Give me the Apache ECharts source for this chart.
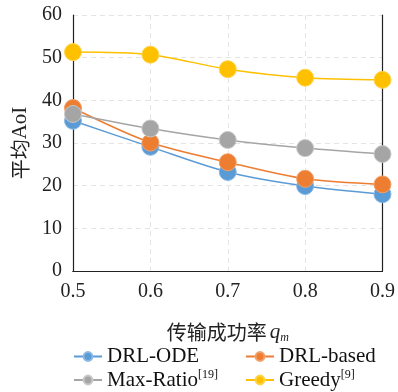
<!DOCTYPE html>
<html>
<head>
<meta charset="utf-8">
<script src="https://cdn.jsdelivr.net/npm/echarts@6/dist/echarts.min.js"></script>
<style>
  html, body { margin: 0; padding: 0; background: #fff; }
  #chart { width: 398px; height: 392px; }
</style>
</head>
<body>
<div id="chart"></div>
<script>
"use strict";

// data
const qm = ['0.5', '0.6', '0.7', '0.8', '0.9'];
const drlOde = [35.2, 29.1, 23.2, 19.9, 18.0];
const drlBased = [38.2, 30.1, 25.5, 21.6, 20.3];
const maxRatio = [36.8, 33.4, 30.7, 28.8, 27.4];
const greedy = [51.3, 50.7, 47.3, 45.3, 44.8];
const yTicks = [0, 10, 20, 30, 40, 50, 60];

const serif = '"Liberation Serif", "DejaVu Serif", serif';
const cjk = '"Noto Sans CJK SC", sans-serif';

let mkSeries = (name, data, color, border) => ({
    name: name,
    type: 'line',
    data: data,
    smooth: 0.3,
    symbol: 'circle',
    symbolSize: 17,
    lineStyle: { color: color, width: 1.5 },
    itemStyle: { color: color, borderColor: border, borderWidth: 1 },
    z: 3
});

let legendFmt = (name) => {
    if (name === 'Max-Ratio') return '{t|Max-Ratio}{s|[19]}';
    if (name === 'Greedy') return '{t|Greedy}{s|[9]}';
    return '{t|' + name + '}';
};
let legendText = {
    fontFamily: serif,
    fontSize: 21,
    color: '#111',
    rich: {
        t: { fontFamily: serif, fontSize: 21, color: '#111' },
        s: { fontFamily: serif, fontSize: 12, color: '#111', verticalAlign: 'top', padding: [0, 0, 10, 0] }
    }
};

// one legend per cell of the 2x2 block
let mkLegend = (name, left, top) => ({
    left: left, top: top,
    itemWidth: 28, itemHeight: 11, itemGap: 0,
    data: [name],
    formatter: legendFmt, textStyle: legendText
});

let myChart = echarts.init(document.getElementById('chart'));

let frameLine = { show: true, lineStyle: { color: '#222', width: 1.2 } };

myChart.setOption({
    animation: false,
    grid: {
        left: 73, right: 13, top: 15, bottom: 121
    },
    legend: [
        mkLegend('DRL-ODE', 68, 341),
        mkLegend('Max-Ratio', 68, 364),
        mkLegend('DRL-based', 240, 341),
        mkLegend('Greedy', 240, 364)
    ],
    xAxis: [
        {
            type: 'category',
            data: qm,
            boundaryGap: false,
            axisLine: frameLine,
            axisTick: { show: false },
            axisLabel: { fontFamily: serif, fontSize: 20, color: '#222', margin: 11 },
            splitLine: { show: true, lineStyle: { color: '#e4e4e4', type: [5, 4] } },
            name: '{c|传输成功率}{q|q}{m|m}',
            nameLocation: 'middle',
            nameGap: 50,
            nameTextStyle: {
                rich: {
                    c: { fontFamily: cjk, fontSize: 20, color: '#222' },
                    q: { fontFamily: serif, fontStyle: 'italic', fontSize: 21, color: '#222', padding: [0, 0, 0, 3] },
                    m: { fontFamily: serif, fontStyle: 'italic', fontSize: 12, color: '#222', verticalAlign: 'bottom', padding: [11, 0, 0, 0] }
                }
            }
        },
        {
            // top edge of the frame
            type: 'category', data: qm, boundaryGap: false, position: 'top',
            axisLine: frameLine, axisTick: { show: false }, axisLabel: { show: false },
            splitLine: { show: false }
        }
    ],
    yAxis: [
        {
            type: 'value',
            min: 0, max: 60, interval: 10,
            axisLine: frameLine,
            axisTick: { show: false },
            axisLabel: {
                fontFamily: serif, fontSize: 20, color: '#222', margin: 11,
                formatter: v => yTicks.includes(v) ? String(v) : ''
            },
            splitLine: { show: true, lineStyle: { color: '#e4e4e4', type: [5, 4] } },
            name: '{c|平均}{a|AoI}',
            nameLocation: 'middle',
            nameGap: 41,
            nameRotate: 90,
            nameTextStyle: {
                rich: {
                    c: { fontFamily: cjk, fontSize: 20, color: '#222' },
                    a: { fontFamily: serif, fontSize: 21, color: '#222' }
                }
            }
        },
        {
            // right edge of the frame
            type: 'value', min: 0, max: 60, interval: 10, position: 'right',
            axisLine: frameLine, axisTick: { show: false }, axisLabel: { show: false },
            splitLine: { show: false }
        }
    ],
    series: [
        mkSeries('DRL-ODE', drlOde, '#5b9bd5', '#8ab8e4'),
        mkSeries('DRL-based', drlBased, '#ed7d31', '#f2a06a'),
        mkSeries('Max-Ratio', maxRatio, '#a5a5a5', '#c8c8c8'),
        mkSeries('Greedy', greedy, '#ffc000', '#ffd34d')
    ]
});
</script>
</body>
</html>
